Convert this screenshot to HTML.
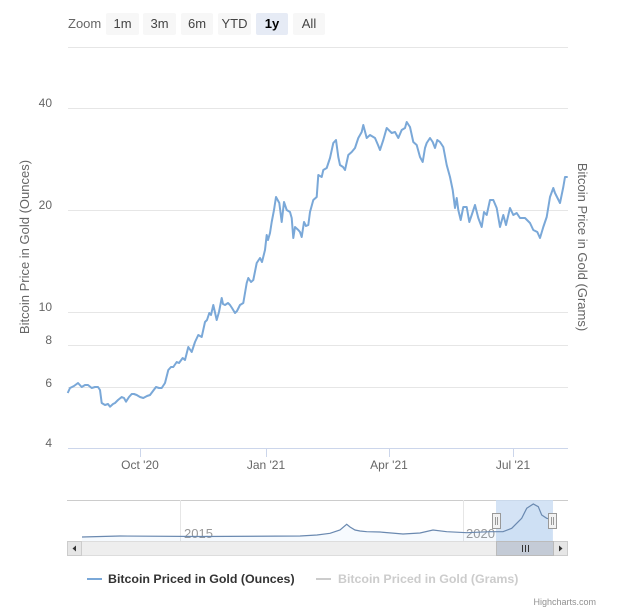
<!DOCTYPE html>
<html><head><meta charset="utf-8"><style>
html,body{margin:0;padding:0;background:#fff;}
svg{display:block;font-family:"Liberation Sans",sans-serif;}
</style></head><body>
<svg width="640" height="610" viewBox="0 0 640 610" xmlns="http://www.w3.org/2000/svg">
<rect width="640" height="610" fill="#fff"/>
<!-- range selector -->
<text x="68" y="28" font-size="13" fill="#666">Zoom</text>
<g font-size="13" text-anchor="middle" fill="#444">
<rect x="106" y="13" width="33" height="22" rx="2" fill="#f7f7f7"/><text x="122.5" y="28">1m</text>
<rect x="143" y="13" width="33" height="22" rx="2" fill="#f7f7f7"/><text x="159.5" y="28">3m</text>
<rect x="181" y="13" width="32" height="22" rx="2" fill="#f7f7f7"/><text x="197" y="28">6m</text>
<rect x="218" y="13" width="33" height="22" rx="2" fill="#f7f7f7"/><text x="234.5" y="28">YTD</text>
<rect x="256" y="13" width="32" height="22" rx="2" fill="#e6ebf5"/><text x="272" y="28" font-weight="bold" fill="#000">1y</text>
<rect x="293" y="13" width="32" height="22" rx="2" fill="#f7f7f7"/><text x="309" y="28">All</text>
</g>
<!-- grid -->
<g stroke="#e6e6e6" stroke-width="1">
<line x1="68" y1="47.5" x2="568" y2="47.5"/>
<line x1="68" y1="108.5" x2="568" y2="108.5"/>
<line x1="68" y1="210.5" x2="568" y2="210.5"/>
<line x1="68" y1="312.5" x2="568" y2="312.5"/>
<line x1="68" y1="345.5" x2="568" y2="345.5"/>
<line x1="68" y1="387.5" x2="568" y2="387.5"/>
</g>
<line x1="68" y1="448.5" x2="568" y2="448.5" stroke="#ccd6eb"/>
<g stroke="#ccd6eb">
<line x1="140.5" y1="448" x2="140.5" y2="457"/>
<line x1="266.5" y1="448" x2="266.5" y2="457"/>
<line x1="389.5" y1="448" x2="389.5" y2="457"/>
<line x1="513.5" y1="448" x2="513.5" y2="457"/>
</g>
<g font-size="12" fill="#666" text-anchor="end">
<text x="52" y="107">40</text>
<text x="52" y="209">20</text>
<text x="52" y="311">10</text>
<text x="52" y="344">8</text>
<text x="52" y="387">6</text>
<text x="52" y="447">4</text>
</g>
<g font-size="12" fill="#666" text-anchor="middle">
<text x="140" y="469">Oct '20</text>
<text x="266" y="469">Jan '21</text>
<text x="389" y="469">Apr '21</text>
<text x="513" y="469">Jul '21</text>
</g>
<text transform="translate(29,247) rotate(-90)" font-size="13" fill="#666" text-anchor="middle">Bitcoin Price in Gold (Ounces)</text>
<text transform="translate(578,247) rotate(90)" font-size="13" fill="#666" text-anchor="middle">Bitcoin Price in Gold (Grams)</text>
<!-- series -->
<polyline fill="none" stroke="#7aa8d8" stroke-width="2" stroke-linejoin="round" points="67.7,393 70,388 74,386 78,383 81.7,387 85,385 88,385 91.7,388 95,387 98,387 100,390 101.7,403 105,405 108,404 110,406.7 113,404 115,403 118,400 121.7,397 124,398 126,401.7 129,397 131.7,394 134,394 136.7,395 140,397 143.3,398 147,396 150,395 153,391 156,387 159,388 161.7,388 165,383 168.3,370 171,367 173.3,367 176.7,362 179,363 182.7,358 185,360 188.3,347 191.7,352 195,342 198.3,335 201.7,337 205,322 207,320 209.3,313 211,315 213.3,305 216.7,320 219,312 221.7,298 223,304 225,305 228,303 230,305 232,308 235,313 237,311 240,305 243.3,303 246.7,283 248.3,278 251,282 253.3,280 256.7,263 260,258 262,262 265,250 266.7,235 268,240 270,233 271.7,222 274,210 276,197 279.3,203 281.7,222 284,202 286.7,210 290,212 291.7,218 293.3,238 295,227 298.3,230 300,232 301.7,237 304,222 306,226 308.3,225 310,212 313.3,200 316.7,197 318.3,175 321.7,177 323.3,170 326.7,168 330,158 333.3,143 336,140 338.3,157 340,165 343,167 345,170 348.3,155 351.7,152 355,148 358.3,138 361.7,132 363.3,125 366.7,138 370,135 375,138 378,145 380,150 383.3,140 386.7,128 391.7,133 395,132 398.3,138 401.7,130 405,128 406.7,122 410,127 413.3,142 416.7,145 420,157 422.7,162 425,148 426.7,143 430,138 432.7,142 435,148 437.3,140 440,142 443.3,147 446.7,165 450,177 452.7,190 455,208 456.7,198 458.3,210 460.7,220 463.3,207 466.7,207 469.3,222 471.7,215 475,205 478.3,218 481.7,227 484,212 486.7,215 490,200 493.3,200 496.7,208 500,227 503.3,215 506,225 510,208 513.3,215 516.7,213 520,218 525,218 530,223 533.3,230 537.3,232 540,238 543.3,227 546.7,217 550,197 553.3,188 555,193 560,203 563.3,187 565,177 567.7,177"/>
<!-- navigator -->
<line x1="67" y1="500.5" x2="568" y2="500.5" stroke="#ccc"/>
<rect x="496" y="500" width="57" height="41" fill="#c9dcf2" fill-opacity="0.8"/>
<g stroke="#e6e6e6"><line x1="180.5" y1="500" x2="180.5" y2="541"/><line x1="463.5" y1="500" x2="463.5" y2="541"/></g>
<g font-size="13" fill="#999"><text x="184" y="538">2015</text><text x="466" y="538">2020</text></g>
<path d="M82,537 L120,536 L200,536.5 L300,536 L317,535 L330,533.3 L340,530 L346.7,524.3 L350,527 L355,530 L360,531 L366.7,531.7 L380,532 L403,534 L420,533 L433,530 L446.7,531.7 L466.7,532.7 L490,531.7 L503,531.7 L511.7,528.3 L518.3,521.7 L521.7,518.3 L526.7,508.3 L533.3,504 L538.3,506.7 L541.7,515 L546.7,518.3 L551.7,519.3 L551.7,541 L82,541 Z" fill="#7cb5ec" fill-opacity="0.07"/>
<polyline fill="none" stroke="#6a89b0" stroke-width="1.2" points="82,537 120,536 200,536.5 300,536 317,535 330,533.3 340,530 346.7,524.3 350,527 355,530 360,531 366.7,531.7 380,532 403,534 420,533 433,530 446.7,531.7 466.7,532.7 490,531.7 503,531.7 511.7,528.3 518.3,521.7 521.7,518.3 526.7,508.3 533.3,504 538.3,506.7 541.7,515 546.7,518.3 551.7,519.3"/>
<!-- handles -->
<rect x="492.5" y="513.5" width="8" height="15" fill="#f2f2f2" stroke="#999"/>
<line x1="495.5" y1="517" x2="495.5" y2="525" stroke="#999"/><line x1="497.5" y1="517" x2="497.5" y2="525" stroke="#999"/>
<rect x="548.5" y="513.5" width="8" height="15" fill="#f2f2f2" stroke="#999"/>
<line x1="551.5" y1="517" x2="551.5" y2="525" stroke="#999"/><line x1="553.5" y1="517" x2="553.5" y2="525" stroke="#999"/>
<!-- scrollbar -->
<rect x="67.5" y="541.5" width="500" height="14" fill="#eee" stroke="#ddd"/>
<rect x="67.5" y="541.5" width="14" height="14" fill="#e6e6e6" stroke="#ccc"/>
<path d="M76,545.5 L72.5,548.5 L76,551.5 Z" fill="#333"/>
<rect x="553.5" y="541.5" width="14" height="14" fill="#e6e6e6" stroke="#ccc"/>
<path d="M559,545.5 L562.5,548.5 L559,551.5 Z" fill="#333"/>
<rect x="496.5" y="541.5" width="57" height="14" fill="#c4cbd6" stroke="#bbb"/>
<g stroke="#333"><line x1="522.5" y1="545" x2="522.5" y2="552"/><line x1="525.5" y1="545" x2="525.5" y2="552"/><line x1="528.5" y1="545" x2="528.5" y2="552"/></g>
<!-- legend -->
<line x1="87" y1="579" x2="102" y2="579" stroke="#7aa8d8" stroke-width="2"/>
<text x="108" y="583" font-size="12.4" font-weight="bold" fill="#333">Bitcoin Priced in Gold (Ounces)</text>
<line x1="316" y1="579" x2="331" y2="579" stroke="#ccc" stroke-width="2"/>
<text x="338" y="583" font-size="12.4" font-weight="bold" fill="#ccc">Bitcoin Priced in Gold (Grams)</text>
<text x="596" y="605" font-size="9" fill="#909090" text-anchor="end">Highcharts.com</text>
</svg>
</body></html>
